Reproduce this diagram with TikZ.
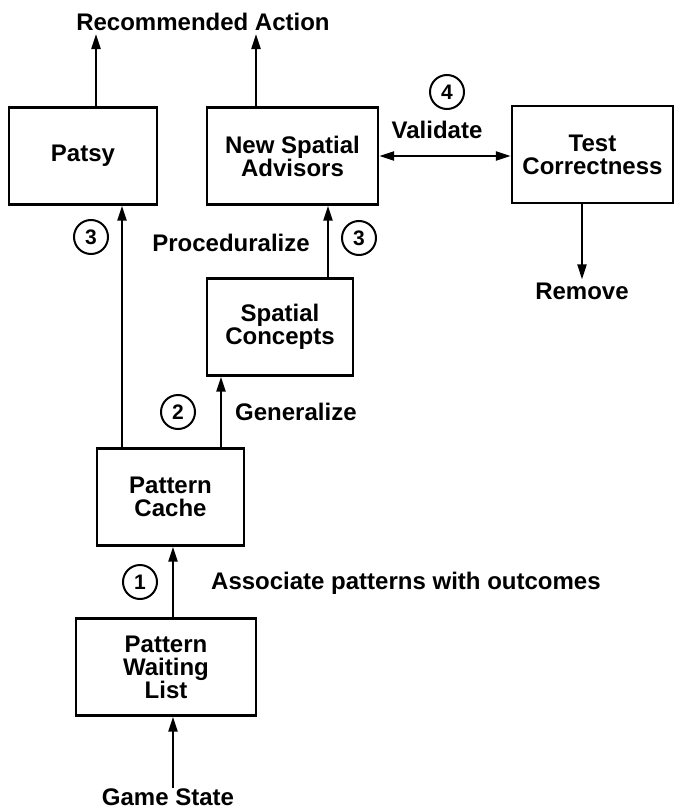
\documentclass[tikz,border=0pt]{standalone}
\usepackage{fontspec}
\setmainfont{Liberation Sans}
\usetikzlibrary{arrows.meta,positioning}
\newcommand{\phasemark}[3]{\node [phase] (#1) at (#2) {#3};}

\begin{document}
\begin{tikzpicture}[x=1pt, y=-1pt, font=\bfseries\fontsize{24}{23}\selectfont,
 box/.style={draw, line width=2.4pt, align=center, minimum height=97pt, inner sep=0pt},
 phase/.style={circle, draw, line width=2pt, minimum size=34pt, inner sep=0pt, font=\bfseries\fontsize{21}{21}\selectfont},
 flow/.style={-{Triangle[length=15pt,width=9pt]}, line width=2.2pt},
 twoway/.style={{Triangle[length=15pt,width=9pt]}-{Triangle[length=15pt,width=9pt]}, line width=2.2pt}]

 \useasboundingbox (0,0) rectangle (675,810);

 \node[inner sep=3pt] (rec) at (203,22) {Recommended Action};
 \node[box, minimum width=148pt] (patsy) at (83,156) {Patsy};
 \node[box, minimum width=171pt] (nsa) at (292.5,156) {New Spatial\\Advisors};
 \node[box, minimum width=161pt] (tc) at (592.5,154.5) {Test\\Correctness};
 \node[inner sep=3pt] (remove) at (582,291) {Remove};
 \node[box, minimum width=146pt] (sc) at (280,327) {Spatial\\Concepts};
 \node[box, minimum width=147pt] (pc) at (170.5,497) {Pattern\\Cache};
 \node[box, minimum width=180pt] (wl) at (166,667) {Pattern\\Waiting\\List};
 \node[inner sep=0pt] (game) at (168,797) {Game State};

 \coordinate (lineA) at (122,0);
 \coordinate (lineB) at (221,0);
 \coordinate (lineC) at (328,0);
 \coordinate (lineD) at (96,0);
 \coordinate (lineE) at (256,0);
 \coordinate (lineG) at (173,0);

 \draw[flow] (game.north -| lineG) -- (wl.south -| lineG);
 \draw[flow] (wl.north -| lineG) -- (pc.south -| lineG);
 \draw[flow] (pc.north -| lineA) -- (patsy.south -| lineA);
 \draw[flow] (pc.north -| lineB) -- (sc.south -| lineB);
 \draw[flow] (sc.north -| lineC) -- (nsa.south -| lineC);
 \draw[flow] (patsy.north -| lineD) -- (rec.south -| lineD);
 \draw[flow] (nsa.north -| lineE) -- (rec.south -| lineE);
 \draw[flow] (tc.south -| remove) -- (remove);
 \draw[twoway] (nsa.east) -- (nsa.east -| tc.west);

 \phasemark{one}{140,582}{1}
 \phasemark{two}{178,412}{2}
 \phasemark{threeL}{91,237}{3}
 \phasemark{threeR}{359,238}{3}
 \phasemark{four}{447,92}{4}

 \node[anchor=west, inner sep=1pt] (assoc) at (210,583) {Associate patterns with outcomes};
 \node[anchor=west, inner sep=1pt] (gen) at (234,412) {Generalize};
 \node[inner sep=1pt] (proc) at (231,243) {Proceduralize};
 \node[inner sep=1pt] (validate) at (437,130) {Validate};
\end{tikzpicture}
\end{document}
